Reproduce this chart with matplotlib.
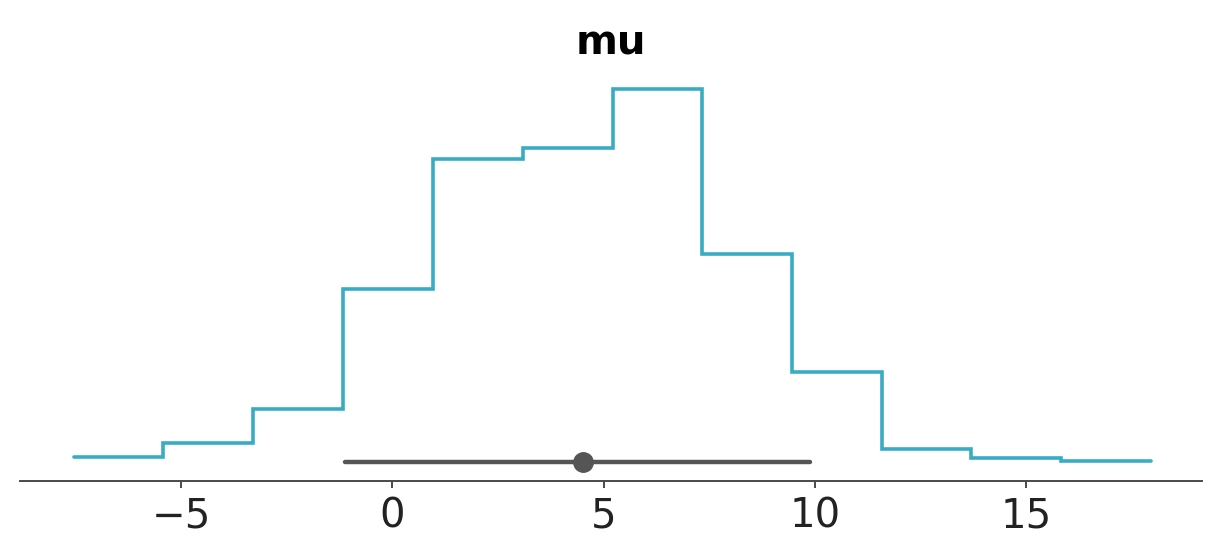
import numpy as np
from matplotlib import pyplot as plt

# histogram of posterior samples of mu (density)
bin_edges = [-7.54, -5.43, -3.29, -1.16, 0.95, 3.08, 5.21,
             7.32, 9.45, 11.59, 13.70, 15.83, 17.96]
density = [0.0016, 0.0058, 0.0160, 0.0522, 0.0913, 0.0947,
           0.1124, 0.0627, 0.0271, 0.0040, 0.0013, 0.0004]

hdi_low, hdi_high = -1.11, 9.89
point_est = 4.52
var_name = 'mu'

fig = plt.figure(figsize=(12.23, 5.59), dpi=100)
ax = fig.add_axes([0.0164, 0.1395, 0.9665, 0.7355])

steps = ax.stairs(density, bin_edges, baseline=None,
                  color='#38abc5', linewidth=2.6)
steps.set_capstyle('round')

ax.plot([hdi_low, hdi_high], [0, 0], color='#555555',
        linewidth=3.2, solid_capstyle='round')
ax.plot(point_est, 0, 'o', color='#555555', markersize=14)

ax.set_xlim(-8.81, 19.16)
ax.set_ylim(-0.0057, 0.1181)
ax.set_xticks([-5, 0, 5, 10, 15])
ax.set_yticks([])

for s in ['left', 'right', 'top']:
    ax.spines[s].set_visible(False)
ax.spines['bottom'].set_color('#4a4a4a')
ax.spines['bottom'].set_linewidth(1.4)
ax.tick_params(axis='x', labelsize=29, colors='#4a4a4a',
               labelcolor='#222222', length=5, width=1.4, pad=6)

ax.set_title(var_name, fontsize=29, fontweight='bold', pad=11)

fig.savefig('out.png', dpi=100)
